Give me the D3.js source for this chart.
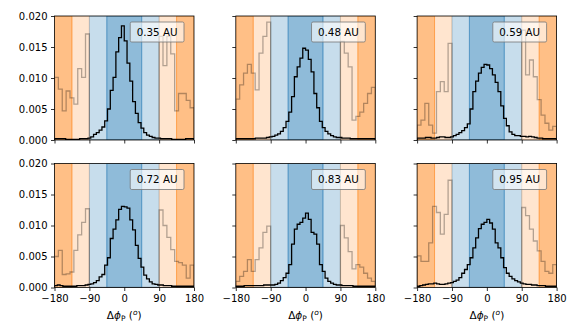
<!DOCTYPE html>
<html>
<head>
	<meta charset="utf-8">
	<title>Phase offset histograms</title>
	<script src="https://d3js.org/d3.v7.min.js"></script>
	<style>
		body { margin: 0; background: white; }
		text { font-family: "DejaVu Sans", sans-serif; }
	</style>
</head>
<body>
	<script>
		var width = 581, height = 334;

		// distances shown in the panel labels
		var labels = ["0.35 AU", "0.48 AU", "0.59 AU", "0.72 AU", "0.83 AU", "0.95 AU"];
		var xTicks = [-180, -90, 0, 90, 180];
		var yTicks = [0, 0.005, 0.010, 0.015, 0.020];

		// shaded phase zones [from, to, colour, opacity]
		var zones = [
			[-180, -135, "#ff7f0e", 0.5],
			[-135, -90, "#ff7f0e", 0.2],
			[-90, -45, "#1f77b4", 0.25],
			[-45, 45, "#1f77b4", 0.5],
			[45, 90, "#1f77b4", 0.25],
			[90, 135, "#ff7f0e", 0.2],
			[135, 180, "#ff7f0e", 0.5]
		];

		// black histograms: 50 bins of 7.2 deg
		var fine035 = [0.0002,0.0002,0.0002,0.0002,0.0001,0.0001,0.0001,0.0001,0.0001,0.0002,0.0002,0.0002,
			0.0003,0.0005,0.0009,0.0012,0.0016,0.0021,0.0031,0.0050,0.0080,0.0101,0.0142,0.0165,0.0184,
			0.0160,0.0124,0.0095,0.0062,0.0043,0.0028,0.0019,0.0012,0.0008,0.0006,0.0004,0.0003,
			0.0003,0.0002,0.0002,0.0002,0.0002,0.0001,0.0001,0.0001,0.0001,0.0001,0.0002,0.0002,0.0002];
		var fine048 = [0.0002,0.0002,0.0002,0.0002,0.0002,0.0002,0.0002,0.0003,0.0003,0.0003,0.0003,0.0004,
			0.0005,0.0006,0.0008,0.0010,0.0014,0.0020,0.0030,0.0045,0.0070,0.0102,0.0118,0.0132,0.0148,
			0.0145,0.0130,0.0110,0.0075,0.0052,0.0030,0.0020,0.0014,0.0010,0.0007,0.0005,0.0004,
			0.0004,0.0003,0.0003,0.0003,0.0002,0.0002,0.0002,0.0002,0.0002,0.0002,0.0002,0.0002,0.0002];
		var fine059 = [0.0003,0.0003,0.0003,0.0004,0.0004,0.0003,0.0003,0.0004,0.0005,0.0005,0.0004,0.0004,
			0.0005,0.0007,0.0009,0.0012,0.0015,0.0020,0.0026,0.0050,0.0078,0.0095,0.0108,0.0117,0.0122,
			0.0121,0.0115,0.0105,0.0093,0.0078,0.0055,0.0035,0.0023,0.0013,0.0009,0.0007,0.0007,
			0.0006,0.0006,0.0005,0.0006,0.0005,0.0004,0.0003,0.0003,0.0002,0.0002,0.0002,0.0002,0.0002];
		var fine072 = [0.0003,0.0004,0.0003,0.0002,0.0002,0.0002,0.0002,0.0002,0.0003,0.0003,0.0003,0.0004,
			0.0005,0.0006,0.0008,0.0011,0.0017,0.0021,0.0036,0.0048,0.0079,0.0094,0.0109,0.0126,0.0131,
			0.0130,0.0128,0.0109,0.0093,0.0068,0.0047,0.0033,0.0020,0.0014,0.0009,0.0006,0.0005,
			0.0004,0.0004,0.0003,0.0003,0.0003,0.0002,0.0002,0.0002,0.0002,0.0002,0.0002,0.0002,0.0002];
		var fine083 = [0.0002,0.0002,0.0002,0.0003,0.0003,0.0003,0.0003,0.0003,0.0003,0.0003,0.0004,0.0004,
			0.0004,0.0004,0.0005,0.0007,0.0011,0.0016,0.0023,0.0037,0.0070,0.0094,0.0102,0.0105,0.0112,
			0.0120,0.0110,0.0089,0.0086,0.0070,0.0037,0.0026,0.0015,0.0010,0.0007,0.0005,
			0.0004,0.0004,0.0003,0.0003,0.0003,0.0003,0.0002,0.0002,0.0002,0.0002,0.0002,0.0002,0.0002,0.0002];
		var fine095 = [0.0002,0.0003,0.0004,0.0005,0.0006,0.0006,0.0007,0.0006,0.0005,0.0005,0.0006,0.0007,
			0.0008,0.0010,0.0012,0.0016,0.0023,0.0029,0.0037,0.0048,0.0064,0.0080,0.0095,0.0102,0.0105,
			0.0110,0.0104,0.0094,0.0072,0.0064,0.0048,0.0032,0.0023,0.0018,0.0014,0.0011,0.0009,
			0.0007,0.0006,0.0005,0.0005,0.0004,0.0004,0.0003,0.0003,0.0003,0.0002,0.0002,0.0002,0.0002];

		// grey histograms: 36 bins of 10 deg, empty inside +-90
		var coarse035 = [0.0101,0.0082,0.0047,0.0079,0.0068,0.0058,0.0115,0.0101,0.0171,
			0,0,0,0,0,0,0,0,0,0,0,0,0,0,0,0,0,0,
			0.0167,0.0120,0.0167,0.0139,0.0047,0.0075,0.0075,0.0064,0.0052];
		var coarse048 = [0.0066,0.0089,0.0108,0.0122,0.0108,0.0081,0.0140,0.0167,0.0190,
			0,0,0,0,0,0,0,0,0,0,0,0,0,0,0,0,0,0,
			0.0159,0.0140,0.0118,0.0032,0.0038,0.0045,0.0059,0.0075,0.0085];
		var coarse059 = [0.0024,0.0032,0.0059,0.0024,0.0011,0.0078,0.0094,0.0078,0.0156,
			0,0,0,0,0,0,0,0,0,0,0,0,0,0,0,0,0,0,
			0.0177,0.0105,0.0129,0.0102,0.0065,0.0040,0.0027,0.0016,0.0022];
		var coarse072 = [0.0050,0.0060,0.0021,0.0022,0.0025,0.0060,0.0085,0.0105,0.0127,
			0,0,0,0,0,0,0,0,0,0,0,0,0,0,0,0,0,0,
			0.0125,0.0100,0.0081,0.0061,0.0042,0.0040,0.0036,0.0015,0.0036];
		var coarse083 = [0.0010,0.0018,0.0026,0.0045,0.0026,0.0045,0.0064,0.0089,0.0099,
			0,0,0,0,0,0,0,0,0,0,0,0,0,0,0,0,0,0,
			0.0100,0.0080,0.0058,0.0030,0.0037,0.0033,0.0023,0.0015,0.0010];
		var coarse095 = [0.0051,0.0042,0.0042,0.0072,0.0131,0.0121,0.0086,0.0118,0.0173,
			0,0,0,0,0,0,0,0,0,0,0,0,0,0,0,0,0,0,
			0.0129,0.0116,0.0094,0.0075,0.0059,0.0042,0.0026,0.0023,0.0037];

		var fineSeries = [fine035, fine048, fine059, fine072, fine083, fine095];
		var coarseSeries = [coarse035, coarse048, coarse059, coarse072, coarse083, coarse095];

		var colX = [54.5, 235.8, 417.1], rowY = [16, 163.5];
		var pw = 139.5, ph = 124;

		var svg = d3.select("body").append("svg").attr("width", width).attr("height", height);

		// turn bin values into a step outline
		function steps(values) {
			var w = 360 / values.length;
			var pts = [[-180, 0]];
			values.forEach(function(v, i) {
				pts.push([-180 + i * w, v]);
				pts.push([-180 + (i + 1) * w, v]);
			});
			pts.push([180, 0]);
			return pts;
		}

		labels.forEach(function(lab, k) {
			var col = k % 3, row = Math.floor(k / 3);
			var x = d3.scaleLinear().domain([-180, 180]).range([0, pw]);
			var y = d3.scaleLinear().domain([0, 0.02]).range([ph, 0]);
			var g = svg.append("g").attr("transform", "translate(" + colX[col] + "," + rowY[row] + ")");

			g.append("defs").append("clipPath").attr("id", "clip" + k)
				.append("rect").attr("width", pw).attr("height", ph);

			var plot = g.append("g").attr("clip-path", "url(#clip" + k + ")");

			plot.selectAll("rect.zone").data(zones).enter().append("rect")
				.attr("class", "zone")
				.attr("x", function(d){ return x(d[0]); })
				.attr("y", 0)
				.attr("width", function(d){ return x(d[1]) - x(d[0]); })
				.attr("height", ph)
				.attr("fill", function(d){ return d[2]; })
				.attr("fill-opacity", function(d){ return d[3]; })
				.attr("stroke", function(d){ return d[2]; })
				.attr("stroke-opacity", function(d){ return d[3]; })
				.attr("stroke-width", 1);

			var line = d3.line().x(function(d){ return x(d[0]); }).y(function(d){ return y(d[1]); });

			plot.append("path").attr("d", line(steps(coarseSeries[k])))
				.attr("fill", "none").attr("stroke", "black").attr("stroke-opacity", 0.3).attr("stroke-width", 1.3);
			plot.append("path").attr("d", line(steps(fineSeries[k])))
				.attr("fill", "none").attr("stroke", "black").attr("stroke-width", 1.3);

			// label box
			var lg = g.append("g");
			var t = lg.append("text").attr("x", pw - 16.5).attr("y", 19.7)
				.attr("text-anchor", "end").attr("font-size", 10.3).text(lab);
			var bb = t.node().getBBox();
			lg.insert("rect", "text")
				.attr("x", bb.x - 6.5).attr("y", 6).attr("width", bb.width + 13).attr("height", 20)
				.attr("rx", 1.5)
				.attr("fill", "white").attr("fill-opacity", 0.6)
				.attr("stroke", "#777").attr("stroke-opacity", 0.8).attr("stroke-width", 1);

			// axes
			var xa = d3.axisBottom(x).tickValues(xTicks).tickSize(3.5).tickPadding(3.5).tickSizeOuter(0);
			if (row == 0) xa.tickFormat("");
			var ya = d3.axisLeft(y).tickValues(yTicks).tickSize(3.5).tickPadding(3.5).tickSizeOuter(0)
				.tickFormat(col == 0 ? d3.format(".3f") : "");

			var gx = g.append("g").attr("transform", "translate(0," + ph + ")").call(xa);
			var gy = g.append("g").call(ya);
			[gx, gy].forEach(function(a) {
				a.select(".domain").remove();
				a.selectAll("text").attr("font-family", "DejaVu Sans").attr("font-size", 10).attr("fill", "black");
				a.selectAll("line").attr("stroke-width", 0.8);
			});

			g.append("rect").attr("width", pw).attr("height", ph)
				.attr("fill", "none").attr("stroke", "black").attr("stroke-width", 0.8);

			if (row == 1) {
				var xl = g.append("text").attr("x", pw / 2).attr("y", ph + 31).attr("text-anchor", "middle")
					.attr("font-size", 10.5);
				xl.append("tspan").text("Δ");
				xl.append("tspan").attr("font-style", "italic").text("ϕ");
				xl.append("tspan").attr("font-size", 7.5).attr("dy", 2).text("P");
				xl.append("tspan").attr("dy", -2).text(" (");
				xl.append("tspan").attr("font-size", 7.5).attr("font-style", "italic").attr("dy", -4).text("o");
				xl.append("tspan").attr("dy", 4).text(")");
			}
		});
	</script>
</body>
</html>
